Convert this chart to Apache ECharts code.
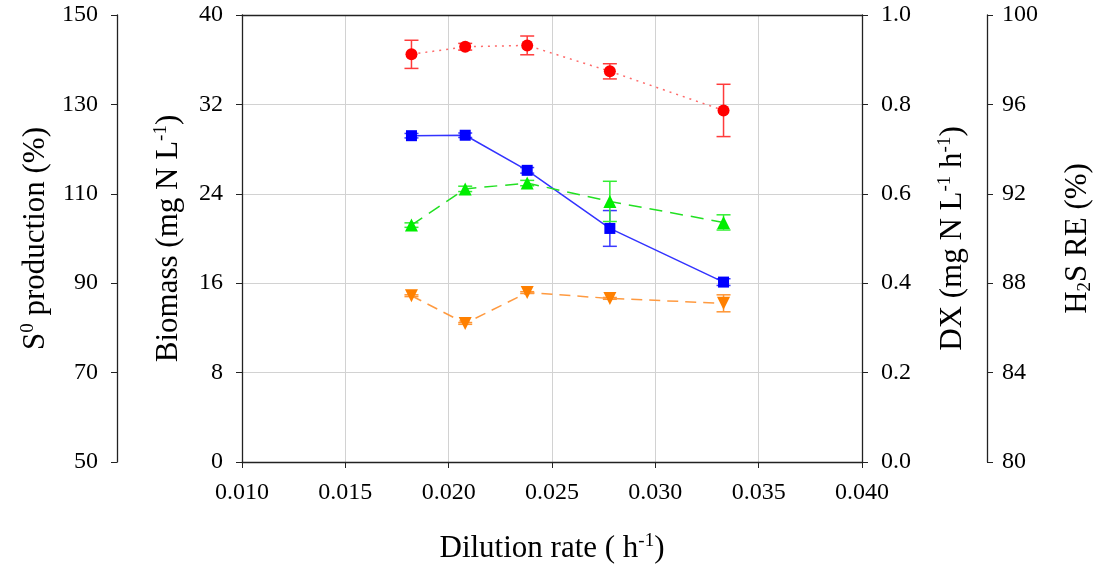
<!DOCTYPE html>
<html>
<head>
<meta charset="utf-8">
<script src="https://cdn.jsdelivr.net/npm/echarts@6/dist/echarts.min.js"></script>
<style>
  html, body { margin: 0; padding: 0; background: #fff; }
  #chart { width: 1102px; height: 564px; }
</style>
</head>
<body>
<div id="chart"></div>
<script>
// dilution rate (h-1)
const dilution = [0.0182, 0.0208, 0.0238, 0.0278, 0.0333];

// biomass (mg N L-1)
const biomass = [29.2, 29.24, 26.1, 20.9, 16.1];
const biomassErr = [0.2, 0.2, 0.25, 1.6, 0.3];

// DX (mg N L-1 h-1)
const dx = [0.530, 0.611, 0.624, 0.583, 0.536];
const dxErr = [0.005, 0.006, 0.006, 0.045, 0.017];

// H2S RE (%)
const h2sRE = [98.24, 98.58, 98.64, 97.48, 95.73];
const h2sErr = [0.63, 0.15, 0.42, 0.34, 1.17];

// S0 production (%)
const s0 = [87.2, 81.0, 87.9, 86.6, 85.5];
const s0Err = [0.2, 0.2, 0.2, 0.2, 1.9];

const FONT = '"Liberation Serif", "Times New Roman", serif';
const AXIS = '#222';
const TICK_FS = 24;

function pairs(ys) {
  return dilution.map((d, i) => [d, ys[i]]);
}

function errRows(ys, errs) {
  return dilution.map((d, i) => [d, ys[i] - errs[i], ys[i] + errs[i]]);
}

function errorBars(color, yAxisIndex, rows) {
  return {
    type: 'custom',
    yAxisIndex: yAxisIndex,
    z: 1,
    silent: true,
    encode: { x: 0, y: [1, 2] },
    data: rows,
    renderItem: function (params, api) {
      const x = api.value(0);
      const top = api.coord([x, api.value(2)]);
      const bot = api.coord([x, api.value(1)]);
      const hw = 7;
      const style = { stroke: color, lineWidth: 1.5 };
      return {
        type: 'group',
        children: [
          { type: 'line', shape: { x1: top[0], y1: top[1], x2: bot[0], y2: bot[1] }, style: style },
          { type: 'line', shape: { x1: top[0] - hw, y1: top[1], x2: top[0] + hw, y2: top[1] }, style: style },
          { type: 'line', shape: { x1: bot[0] - hw, y1: bot[1], x2: bot[0] + hw, y2: bot[1] }, style: style }
        ]
      };
    }
  };
}

const rich = {
  a: { fontFamily: FONT, fontSize: 31, color: '#000', lineHeight: 34 },
  sup: { fontFamily: FONT, fontSize: 19, color: '#000', verticalAlign: 'top', lineHeight: 17 },
  sub: { fontFamily: FONT, fontSize: 19, color: '#000', verticalAlign: 'bottom', lineHeight: 15 }
};

function yAxis(opts) {
  return Object.assign({
    type: 'value',
    nameLocation: 'middle',
    nameRotate: 90,
    nameTextStyle: { rich: rich },
    axisLine: { show: true, onZero: false, lineStyle: { color: AXIS, width: 1.3 } },
    axisTick: { show: true, inside: false, length: 6, lineStyle: { color: AXIS } },
    axisLabel: { fontFamily: FONT, fontSize: TICK_FS, color: '#000', margin: 19 },
    splitLine: { show: false }
  }, opts);
}

const chart = echarts.init(document.getElementById('chart'));

const option = {
  animation: false,
  backgroundColor: '#fff',
  grid: { left: 242, right: 240, top: 15, bottom: 102, outerBoundsMode: 'none', containLabel: false },
  xAxis: [
    {
      type: 'value',
      min: 0.010,
      max: 0.040,
      interval: 0.005,
      name: '{a|Dilution rate ( h}{sup|-1}{a|)}',
      nameLocation: 'middle',
      nameGap: 70,
      nameTextStyle: { rich: rich },
      axisLine: { show: true, onZero: false, lineStyle: { color: AXIS, width: 1.3 } },
      axisTick: { show: true, inside: false, length: 6, lineStyle: { color: AXIS } },
      axisLabel: {
        fontFamily: FONT, fontSize: TICK_FS, color: '#000', margin: 19,
        formatter: v => v.toFixed(3)
      },
      splitLine: { show: true, lineStyle: { color: '#d2d2d2', width: 1 } }
    },
    {
      type: 'value',
      position: 'top',
      min: 0.010,
      max: 0.040,
      axisLine: { show: true, onZero: false, lineStyle: { color: AXIS, width: 1.3 } },
      axisTick: { show: false },
      axisLabel: { show: false },
      splitLine: { show: false }
    }
  ],
  yAxis: [
    yAxis({
      position: 'left',
      min: 0, max: 40, interval: 8,
      name: '{a|Biomass (mg N L}{sup|-1}{a|)}',
      nameGap: 56,
      splitLine: { show: true, lineStyle: { color: '#d2d2d2', width: 1 } }
    }),
    yAxis({
      position: 'left',
      offset: 125,
      min: 50, max: 150, interval: 20,
      name: '{a|S}{sup|0}{a| production (%)}',
      nameGap: 61
    }),
    yAxis({
      position: 'right',
      min: 0, max: 1, interval: 0.2,
      name: '{a|DX (mg N L}{sup|-1}{a| h}{sup|-1}{a|)}',
      nameGap: 74,
      axisLabel: { fontFamily: FONT, fontSize: TICK_FS, color: '#000', margin: 19, formatter: v => v.toFixed(1) }
    }),
    yAxis({
      position: 'right',
      offset: 125,
      min: 80, max: 100, interval: 4,
      name: '{a|H}{sub|2}{a|S RE (%)}',
      nameGap: 74,
      axisLabel: { fontFamily: FONT, fontSize: TICK_FS, color: '#000', margin: 15 }
    })
  ],
  series: [
    errorBars('#ff3b3b', 3, errRows(h2sRE, h2sErr)),
    errorBars('#3a3aff', 0, errRows(biomass, biomassErr)),
    errorBars('#33ee33', 2, errRows(dx, dxErr)),
    errorBars('#ff9533', 1, errRows(s0, s0Err)),
    {
      name: 'H2S RE',
      type: 'line',
      yAxisIndex: 3,
      data: pairs(h2sRE),
      symbol: 'circle',
      symbolSize: 12,
      z: 3,
      itemStyle: { color: '#ff0000' },
      lineStyle: { color: '#ff6a6a', width: 1.5, type: [2, 5] }
    },
    {
      name: 'Biomass',
      type: 'line',
      yAxisIndex: 0,
      data: pairs(biomass),
      symbol: 'rect',
      symbolSize: 11,
      z: 3,
      itemStyle: { color: '#0000ff' },
      lineStyle: { color: '#3333ff', width: 1.5 }
    },
    {
      name: 'DX',
      type: 'line',
      yAxisIndex: 2,
      data: pairs(dx),
      symbol: 'triangle',
      symbolSize: 13,
      z: 3,
      itemStyle: { color: '#00ee00' },
      lineStyle: { color: '#22e022', width: 1.5, type: [13, 8] }
    },
    {
      name: 'S0 production',
      type: 'line',
      yAxisIndex: 1,
      data: pairs(s0),
      symbol: 'triangle',
      symbolRotate: 180,
      symbolSize: 13,
      z: 3,
      itemStyle: { color: '#ff8000' },
      lineStyle: { color: '#ff9a40', width: 1.5, type: [11, 7] }
    }
  ]
};

chart.setOption(option);
</script>
</body>
</html>
